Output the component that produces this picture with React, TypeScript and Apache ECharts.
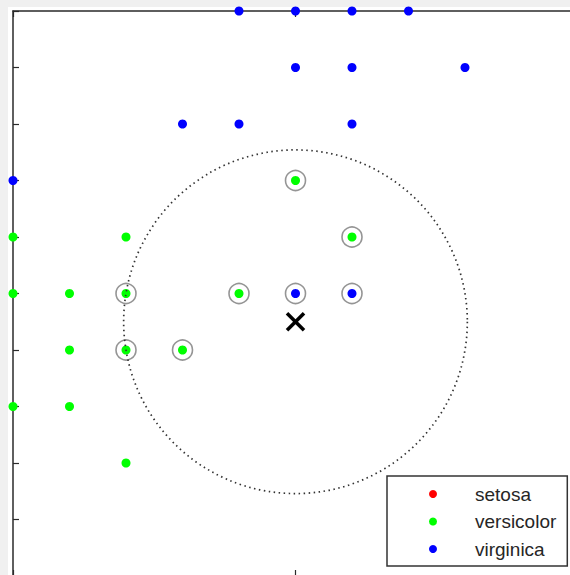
import React, { useEffect, useRef } from 'react';
import * as echarts from 'echarts';

// ---- data (petal length, petal width) ----
const classNames = ['setosa', 'versicolor', 'virginica'];

const setosaPoints: number[][] = [];
const versicolorPoints: number[][] = [
  [5.0, 1.7],
  [4.5, 1.6], [4.7, 1.6], [5.1, 1.6],
  [4.5, 1.5], [4.6, 1.5], [4.7, 1.5], [4.9, 1.5],
  [4.6, 1.4], [4.7, 1.4], [4.8, 1.4],
  [4.5, 1.3], [4.6, 1.3],
  [4.7, 1.2],
];
const virginicaPoints: number[][] = [
  [4.9, 2.0], [5.0, 2.0], [5.1, 2.0], [5.2, 2.0],
  [5.0, 1.9], [5.1, 1.9], [5.3, 1.9],
  [4.8, 1.8], [4.9, 1.8], [5.1, 1.8],
  [4.5, 1.7],
  [5.0, 1.5], [5.1, 1.5],
];
const newPoint: number[] = [5.0, 1.45];
const neighborPoints: number[][] = [
  [5.0, 1.5], [5.1, 1.5], [4.9, 1.5], [4.8, 1.4],
  [4.7, 1.4], [4.7, 1.5], [5.1, 1.6], [5.0, 1.7],
];
const xLimits = [4.5, 5.5];
const yLimits = [1, 2];
const xTickStep = 0.5;
const yTickStep = 0.1;

// styles
const classColors = ['#ff0000', '#00ff00', '#0000ff'];
const axisColor = '#2a2a2a';

const searchRadius = Math.max(
  ...neighborPoints.map((p) => Math.hypot(p[0] - newPoint[0], p[1] - newPoint[1]))
);

export default function App() {
  const ref = useRef<HTMLDivElement>(null);
  useEffect(() => {
    if (!ref.current) return;
    const chart = echarts.init(ref.current, null, { renderer: 'svg' });
    const axisCommon = {
      type: 'value',
      axisLine: { show: true, onZero: false, lineStyle: { color: axisColor, width: 1.5 } },
      axisTick: { show: true, inside: true, length: 6, lineStyle: { color: axisColor, width: 1.2 } },
      axisLabel: { show: false },
      splitLine: { show: false },
    };
    const pointSeries = [setosaPoints, versicolorPoints, virginicaPoints].map((pts, i) => ({
      type: 'scatter',
      name: classNames[i],
      data: pts,
      symbol: 'circle',
      symbolSize: 9,
      itemStyle: { color: classColors[i], opacity: 1 },
      z: 3,
    }));
    chart.setOption({
      animation: false,
      backgroundColor: '#f0f0f0',
      graphic: [
        {
          type: 'rect',
          left: 8,
          top: 7,
          shape: { width: 620, height: 620 },
          style: { fill: '#ffffff' },
          z: -1,
          silent: true,
        },
      ],
      grid: { left: 13, top: 11, width: 565, height: 565 },
      xAxis: [
        { ...axisCommon, min: xLimits[0], max: xLimits[1], interval: xTickStep, position: 'bottom' },
        { ...axisCommon, min: xLimits[0], max: xLimits[1], interval: xTickStep, position: 'top' },
      ],
      yAxis: [
        { ...axisCommon, min: yLimits[0], max: yLimits[1], interval: yTickStep, position: 'left' },
        { ...axisCommon, min: yLimits[0], max: yLimits[1], interval: yTickStep, position: 'right' },
      ],
      legend: {
        data: classNames,
        orient: 'vertical',
        left: 387,
        top: 476,
        padding: [8, 11, 7, 42],
        itemWidth: 8,
        itemHeight: 8,
        itemGap: 7.5,
        icon: 'circle',
        borderColor: '#333',
        borderWidth: 1.5,
        backgroundColor: '#ffffff',
        selectedMode: false,
        textStyle: {
          fontSize: 19,
          fontFamily: '"Liberation Sans", Arial, sans-serif',
          color: '#262626',
          lineHeight: 20,
          padding: [0, 0, 0, 33],
        },
      },
      series: [
        {
          type: 'scatter',
          name: 'neighbors',
          data: neighborPoints,
          symbol: 'circle',
          symbolSize: 20,
          itemStyle: { color: 'rgba(0,0,0,0)', borderColor: '#7a7a7a', borderWidth: 1.6 },
          z: 2,
        },
        ...pointSeries,
        {
          type: 'custom',
          name: 'search radius',
          data: [[newPoint[0], newPoint[1], searchRadius]],
          encode: { x: 0, y: 1 },
          renderItem: (params: any, api: any) => {
            const c = api.coord([api.value(0), api.value(1)]);
            const r = api.size([api.value(2), 0])[0];
            return {
              type: 'circle',
              shape: { cx: c[0], cy: c[1], r },
              style: { fill: 'none', stroke: '#333', lineWidth: 1.7, lineDash: [1.5, 3.5] },
            };
          },
          z: 4,
        },
        {
          type: 'custom',
          name: 'new point',
          data: [newPoint],
          encode: { x: 0, y: 1 },
          renderItem: (params: any, api: any) => {
            const c = api.coord([api.value(0), api.value(1)]);
            const h = 8.5;
            const st = { stroke: '#000', lineWidth: 3.5 };
            return {
              type: 'group',
              children: [
                { type: 'line', shape: { x1: c[0] - h, y1: c[1] - h, x2: c[0] + h, y2: c[1] + h }, style: st },
                { type: 'line', shape: { x1: c[0] - h, y1: c[1] + h, x2: c[0] + h, y2: c[1] - h }, style: st },
              ],
            };
          },
          z: 5,
        },
      ],
    });
    return () => chart.dispose();
  }, []);
  return (
    <div style={{ position: 'absolute', left: 0, top: 0, width: 570, height: 575, overflow: 'hidden' }}>
      <div ref={ref} style={{ width: 620, height: 620 }} />
    </div>
  );
}
